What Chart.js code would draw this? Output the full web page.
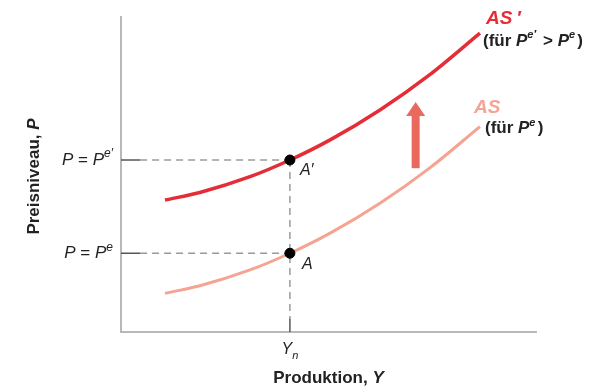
<!DOCTYPE html>
<html>
<head>
<meta charset="utf-8">
<script src="https://cdn.jsdelivr.net/npm/chart.js@4.4.0/dist/chart.umd.min.js"></script>
<style>
  html, body { margin: 0; padding: 0; background: #fff; }
</style>
</head>
<body>
<canvas id="asChart" width="607" height="387"></canvas>
<script>
// values (x: output, y: price level, 0..100)
const outputX = [10.6, 19, 31.1, 40.7, 50.4, 62.4, 74.5, 86.5];
const asPrimeP = [41.9, 44.3, 49.3, 54.6, 61, 70.5, 81.8, 94.9];
const asP = [12.3, 14.7, 19.7, 25, 31.4, 40.9, 52.2, 65.2];
const yN = 40.7;
const pE = 25;
const pEPrime = 54.6;
const tickEndX = 4.6;
const tickEndY = 4.4;
const arrowX = 71;
const arrowFrom = 52;
const arrowTo = 73;

function pts(xs, ys) {
    return xs.map(function (x, i) { return { x: x, y: ys[i] }; });
}

const red = '#e52d38';
const pink = '#f5a392';
const dashGray = '#9a9a9a';
const tickGray = '#555';

// draw text made of runs with different fonts
function drawRuns(ctx, runs, x, y, align) {
    var total = 0;
    runs.forEach(function (r) { ctx.font = r.font; total += ctx.measureText(r.t).width; });
    var cx = x;
    if (align === 'right') cx = x - total;
    if (align === 'center') cx = x - total / 2;
    runs.forEach(function (r) {
        ctx.font = r.font;
        ctx.fillStyle = r.color || '#222';
        ctx.fillText(r.t, cx, y + (r.dy || 0));
        cx += ctx.measureText(r.t).width;
    });
}

const F = 'Liberation Sans, Arial, sans-serif';

const labelsPlugin = {
    id: 'labels',
    afterDraw: function (chart) {
        const ctx = chart.ctx;
        const xs = chart.scales.x, ys = chart.scales.y;
        ctx.save();
        ctx.textBaseline = 'middle';

        // arrow
        var ax = xs.getPixelForValue(arrowX);
        var ay0 = ys.getPixelForValue(arrowFrom);
        var ay1 = ys.getPixelForValue(arrowTo);
        ctx.fillStyle = '#e9695e';
        ctx.fillRect(ax - 4, ay1 + 13, 8, ay0 - ay1 - 13);
        ctx.beginPath();
        ctx.moveTo(ax, ay1);
        ctx.lineTo(ax + 9.5, ay1 + 14);
        ctx.lineTo(ax - 9.5, ay1 + 14);
        ctx.closePath();
        ctx.fill();

        // y tick labels
        var yp1 = ys.getPixelForValue(pEPrime);
        var yp0 = ys.getPixelForValue(pE);
        drawRuns(ctx, [
            { t: 'P', font: 'italic 17px ' + F },
            { t: ' = ', font: '17px ' + F },
            { t: 'P', font: 'italic 17px ' + F },
            { t: 'e\u2032', font: 'italic 12px ' + F, dy: -6 }
        ], 113, yp1, 'right');
        drawRuns(ctx, [
            { t: 'P', font: 'italic 17px ' + F },
            { t: ' = ', font: '17px ' + F },
            { t: 'P', font: 'italic 17px ' + F },
            { t: 'e', font: 'italic 12px ' + F, dy: -6 }
        ], 113, yp0, 'right');

        // x tick label
        var xn = xs.getPixelForValue(yN);
        drawRuns(ctx, [
            { t: 'Y', font: 'italic 16px ' + F },
            { t: 'n', font: 'italic 11px ' + F, dy: 6 }
        ], xn, 350, 'center');

        // axis titles
        var ca = chart.chartArea;
        drawRuns(ctx, [
            { t: 'Produktion, ', font: 'bold 17px ' + F },
            { t: 'Y', font: 'bold italic 17px ' + F }
        ], (ca.left + ca.right) / 2, 378, 'center');
        ctx.save();
        ctx.translate(34, (ca.top + ca.bottom) / 2 + 2);
        ctx.rotate(-Math.PI / 2);
        drawRuns(ctx, [
            { t: 'Preisniveau, ', font: 'bold 17px ' + F },
            { t: 'P', font: 'bold italic 17px ' + F }
        ], 0, 0, 'center');
        ctx.restore();

        // point labels
        drawRuns(ctx, [{ t: 'A\u2032', font: 'italic 16px ' + F }], xn + 10, yp1 + 11, 'left');
        drawRuns(ctx, [{ t: 'A', font: 'italic 16px ' + F }], xn + 12, yp0 + 11, 'left');

        // curve labels
        var n = outputX.length - 1;
        var ex = xs.getPixelForValue(outputX[n]);
        var e1 = ys.getPixelForValue(asPrimeP[n]);
        var e0 = ys.getPixelForValue(asP[n]);
        drawRuns(ctx, [{ t: 'AS\u2009\u2032', font: 'bold italic 19px ' + F, color: red }], ex + 6, e1 - 14, 'left');
        drawRuns(ctx, [
            { t: '(für ', font: 'bold 17px ' + F },
            { t: 'P', font: 'bold italic 17px ' + F },
            { t: 'e\u2032\u2009', font: 'bold italic 11px ' + F, dy: -6 },
            { t: ' > ', font: 'bold 17px ' + F },
            { t: 'P', font: 'bold italic 17px ' + F },
            { t: 'e\u2009', font: 'bold italic 11px ' + F, dy: -6 },
            { t: ')', font: 'bold 17px ' + F }
        ], ex + 3, e1 + 8, 'left');
        drawRuns(ctx, [{ t: 'AS', font: 'bold italic 19px ' + F, color: pink }], ex - 6, e0 - 19, 'left');
        drawRuns(ctx, [
            { t: '(für ', font: 'bold 17px ' + F },
            { t: 'P', font: 'bold italic 17px ' + F },
            { t: 'e\u2009', font: 'bold italic 11px ' + F, dy: -6 },
            { t: ')', font: 'bold 17px ' + F }
        ], ex + 5, e0 + 2, 'left');

        ctx.restore();
    }
};

const guide = {
    borderColor: dashGray, borderWidth: 1.5, borderDash: [7, 5],
    pointRadius: 0, fill: false, order: 5
};
const tick = {
    borderColor: tickGray, borderWidth: 1.5,
    pointRadius: 0, fill: false, order: 5
};

new Chart(document.getElementById('asChart'), {
    type: 'line',
    data: {
        datasets: [
            Object.assign({ data: [{ x: tickEndX, y: pEPrime }, { x: yN, y: pEPrime }] }, guide),
            Object.assign({ data: [{ x: tickEndX, y: pE }, { x: yN, y: pE }] }, guide),
            Object.assign({ data: [{ x: yN, y: pEPrime }, { x: yN, y: tickEndY }] }, guide),
            Object.assign({ data: [{ x: 0, y: pEPrime }, { x: tickEndX, y: pEPrime }] }, tick),
            Object.assign({ data: [{ x: 0, y: pE }, { x: tickEndX, y: pE }] }, tick),
            Object.assign({ data: [{ x: yN, y: 0 }, { x: yN, y: tickEndY }] }, tick),
            {
                label: "AS'",
                data: pts(outputX, asPrimeP),
                borderColor: red, borderWidth: 3.5,
                cubicInterpolationMode: 'monotone',
                pointRadius: 0, fill: false, order: 2
            },
            {
                label: 'AS',
                data: pts(outputX, asP),
                borderColor: pink, borderWidth: 3,
                cubicInterpolationMode: 'monotone',
                pointRadius: 0, fill: false, order: 2
            },
            {
                type: 'scatter',
                data: [{ x: yN, y: pEPrime }, { x: yN, y: pE }],
                backgroundColor: '#000', borderColor: '#000',
                pointRadius: 5, order: 0
            }
        ]
    },
    options: {
        responsive: false,
        animation: false,
        layout: { padding: { left: 121, right: 71, top: 17, bottom: 55 } },
        plugins: { legend: { display: false }, tooltip: { enabled: false } },
        scales: {
            x: {
                type: 'linear', min: 0, max: 100,
                grid: { display: false, drawTicks: false },
                ticks: { display: false },
                border: { color: '#b8b8b8', width: 2 }
            },
            y: {
                type: 'linear', min: 0, max: 100,
                grid: { display: false, drawTicks: false },
                ticks: { display: false },
                border: { color: '#b8b8b8', width: 2 }
            }
        }
    },
    plugins: [labelsPlugin]
});
</script>
</body>
</html>
